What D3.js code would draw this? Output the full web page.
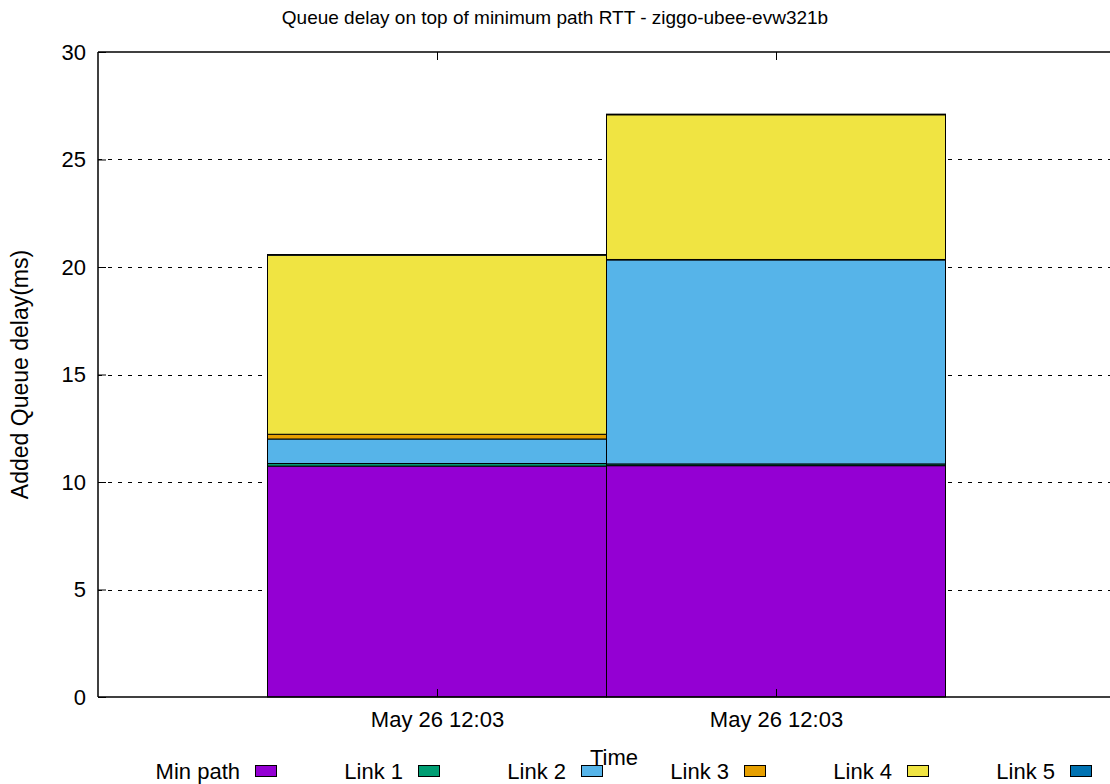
<!doctype html>
<html>
<head>
<meta charset="UTF-8">
<title>Queue delay</title>
<script src="https://d3js.org/d3.v7.min.js"></script>
<style>
  body { margin: 0; background: #fff; }
  text { font-family: "Liberation Sans", Arial, sans-serif; fill: #000; }
</style>
</head>
<body>
<div id="chart"></div>
<script>
// data
var categories = ["May 26 12:03 a", "May 26 12:03 b"];
var tickLabels = ["May 26 12:03", "May 26 12:03"];
var seriesNames = ["Min path", "Link 1", "Link 2", "Link 3", "Link 4", "Link 5"];
var seriesColors = ["#9400d3", "#009e73", "#56b4e9", "#e69f00", "#f0e442", "#0072b2"];
var minPath = [10.74, 10.76];
var link1 = [0.12, 0.08];
var link2 = [1.14, 9.49];
var link3 = [0.22, 0.02];
var link4 = [8.33, 6.73];
var link5 = [0.03, 0.03];
var yTicks = [0, 5, 10, 15, 20, 25, 30];

var W = 1110, H = 784;
var margin = {top: 52, left: 98, bottom: 87, right: -5};
var width = W - margin.left - margin.right,
    height = H - margin.top - margin.bottom;

var svg = d3.select("#chart").append("svg")
  .attr("width", W).attr("height", H);

var g = svg.append("g")
  .attr("transform", "translate(" + margin.left + "," + margin.top + ")");

// x: histogram slots, bars at 0 and 1, range -1..2
var x = d3.scaleLinear().domain([-1, 2]).range([0, width]);
var y = d3.scaleLinear().domain([0, 30]).range([height, 0]);

// dashed grid
g.append("g").selectAll("line")
  .data(yTicks.filter(d => d > 0 && d < 30))
  .enter().append("line")
    .attr("x1", 0).attr("x2", width)
    .attr("y1", d => Math.round(y(d)) + 0.5).attr("y2", d => Math.round(y(d)) + 0.5)
    .attr("stroke", "#000").attr("stroke-width", 1)
    .attr("stroke-dasharray", "4,6");

// stacked bars
var rows = categories.map((c, i) => ({
  cat: c, i: i,
  "Min path": minPath[i], "Link 1": link1[i], "Link 2": link2[i],
  "Link 3": link3[i], "Link 4": link4[i], "Link 5": link5[i]
}));
var stack = d3.stack().keys(seriesNames)(rows);

var layers = g.append("g").selectAll("g")
  .data(stack)
  .enter().append("g")
    .attr("fill", (d, k) => seriesColors[k]);

layers.selectAll("rect")
  .data(d => d)
  .enter().append("rect")
    .attr("x", d => x(d.data.i - 0.5))
    .attr("width", x(0.5) - x(-0.5))
    .attr("y", d => y(d[1]))
    .attr("height", d => Math.max(0, y(d[0]) - y(d[1])))
    .attr("stroke", "#000")
    .attr("stroke-width", 1);

// border
g.append("line").attr("x1", 0).attr("x2", 0).attr("y1", 0).attr("y2", height)
  .attr("stroke", "#000").attr("stroke-width", 1.5);
g.append("line").attr("x1", 0).attr("x2", width).attr("y1", 0).attr("y2", 0)
  .attr("stroke", "#000").attr("stroke-width", 1.5);
g.append("line").attr("x1", 0).attr("x2", width).attr("y1", height).attr("y2", height)
  .attr("stroke", "#000").attr("stroke-width", 1.5);

// y axis
var yAxis = g.append("g")
  .call(d3.axisLeft(y).tickValues(yTicks).tickSize(-8).tickPadding(12));
yAxis.select(".domain").remove();
yAxis.selectAll("text").style("font-size", "22px")
  .style("font-family", "Liberation Sans, Arial, sans-serif");
yAxis.selectAll("line").attr("stroke", "#000");

// x axis bottom with tick labels
var xAxis = g.append("g")
  .attr("transform", "translate(0," + height + ")")
  .call(d3.axisBottom(x).tickValues([0, 1]).tickFormat((d, i) => tickLabels[i])
    .tickSize(-8).tickPadding(14));
xAxis.select(".domain").remove();
xAxis.selectAll("text").style("font-size", "22px")
  .style("font-family", "Liberation Sans, Arial, sans-serif");
xAxis.selectAll("line").attr("stroke", "#000");

// top mirror ticks
var xTop = g.append("g")
  .call(d3.axisTop(x).tickValues([0, 1]).tickFormat("").tickSize(-8));
xTop.select(".domain").remove();
xTop.selectAll("line").attr("stroke", "#000");

// title and axis labels
svg.append("text")
  .attr("x", 555).attr("y", 24)
  .attr("text-anchor", "middle")
  .style("font-size", "19px")
  .text("Queue delay on top of minimum path RTT - ziggo-ubee-evw321b");

svg.append("text")
  .attr("transform", "translate(28," + (margin.top + height / 2) + ") rotate(-90)")
  .attr("text-anchor", "middle")
  .style("font-size", "23px")
  .text("Added Queue delay(ms)");

svg.append("text")
  .attr("x", 614).attr("y", 765)
  .attr("text-anchor", "middle")
  .style("font-size", "22px")
  .text("Time");

// legend
var legend = svg.append("g").selectAll("g")
  .data(seriesNames)
  .enter().append("g")
    .attr("transform", (d, i) => "translate(" + (255 + i * 163) + ",771)");
legend.append("text")
  .attr("x", -15).attr("y", 8)
  .attr("text-anchor", "end")
  .style("font-size", "22px")
  .text(d => d);
legend.append("rect")
  .attr("x", 0.5).attr("y", -5.5)
  .attr("width", 21).attr("height", 11)
  .attr("fill", (d, i) => seriesColors[i])
  .attr("stroke", "#000").attr("stroke-width", 1);
</script>
</body>
</html>
